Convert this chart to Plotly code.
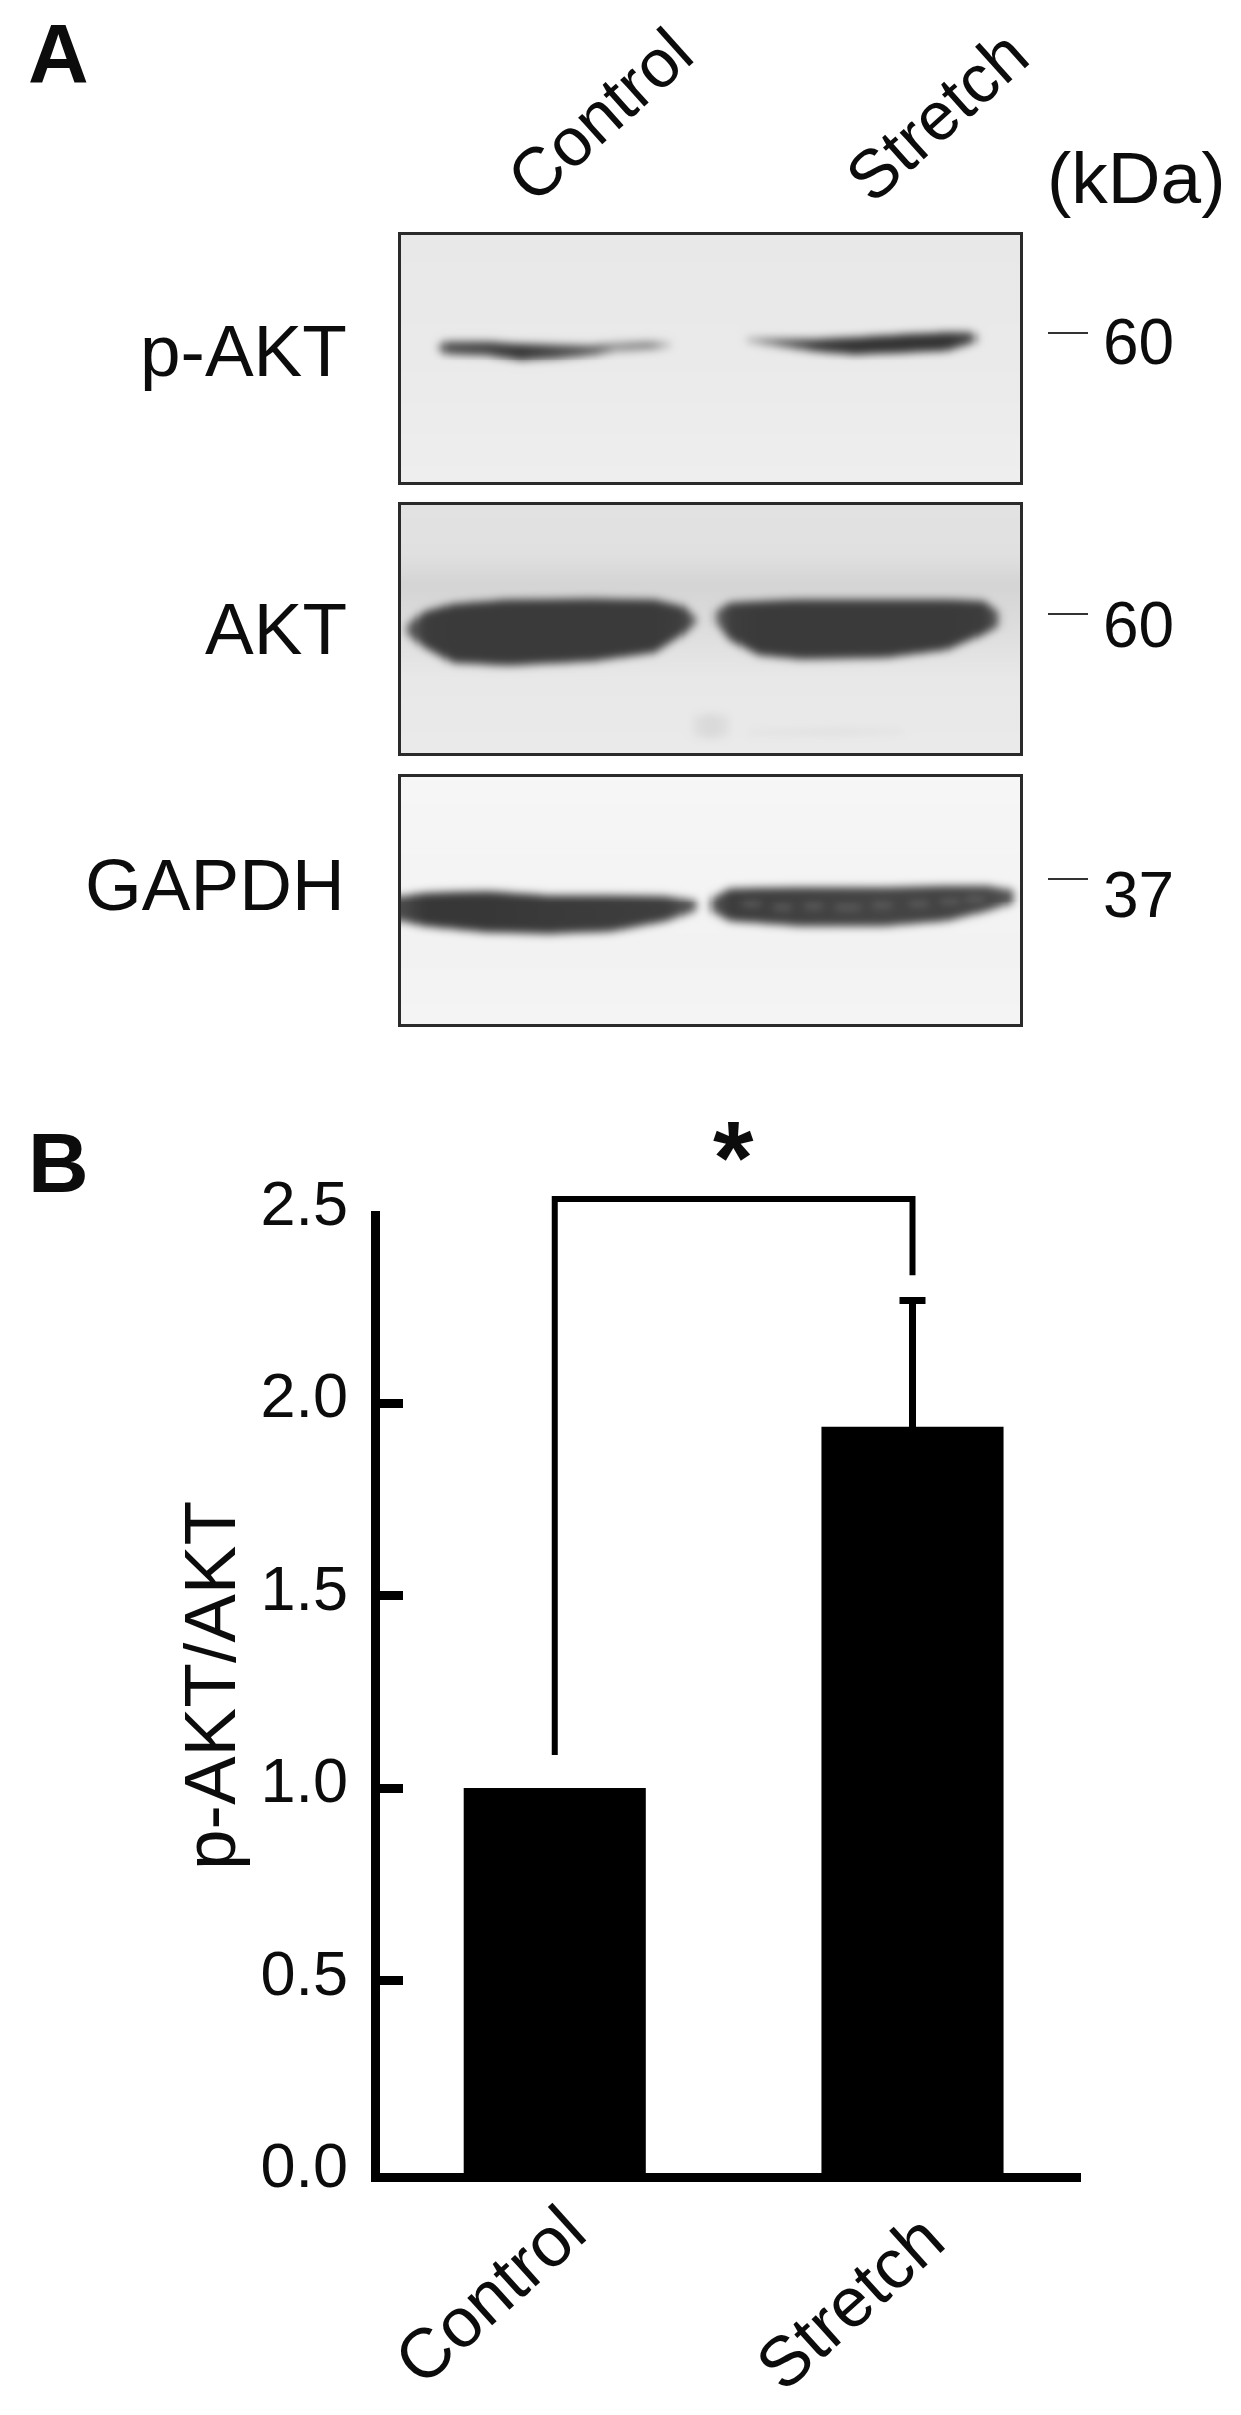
import numpy as np
import plotly.graph_objects as go

W, H = 1241, 2415

# ---------- bar chart data ----------
categories = ["Control", "Stretch"]
ratio_values = [1.0, 1.938]
stretch_error = 0.328
y_ticks = [0.0, 0.5, 1.0, 1.5, 2.0, 2.5]
tick_marks = [0.5, 1.0, 1.5, 2.0, 2.5]
bracket_x = [0, 0, 1, 1]
bracket_y = [1.086, 2.53, 2.53, 2.332]

# ---------- blot readings: lane position (% of panel width), band top / bottom
# (% of panel height), darkest grey level (0-255) ----------
pakt_left = dict(x=[5.7, 7.1, 13.8, 19.2, 25.3, 30.7, 34.7, 40.1, 43.5],
                 top=[44.4, 42.7, 42.7, 43.7, 44.0, 44.2, 43.1, 42.7, 43.1],
                 bot=[46.0, 47.9, 48.5, 50.6, 49.8, 48.5, 46.9, 46.0, 45.2],
                 core=[190, 80, 70, 55, 75, 95, 150, 130, 200])
pakt_right = dict(x=[55.6, 61.0, 67.1, 73.2, 81.3, 88.0, 92.0, 93.0],
                  top=[41.0, 41.5, 41.7, 41.0, 39.8, 39.0, 39.0, 40.2],
                  bot=[43.1, 44.8, 46.9, 48.1, 47.3, 46.5, 43.7, 42.7],
                  core=[190, 110, 60, 50, 50, 50, 70, 170])
akt_left = dict(x=[1.0, 3.7, 8.4, 17.2, 30.7, 40.8, 45.5, 47.5],
                top=[47.9, 42.7, 39.6, 37.9, 37.5, 37.9, 40.6, 44.8],
                bot=[52.1, 57.3, 63.5, 64.6, 62.9, 59.4, 52.0, 47.9],
                core=[100, 60, 58, 58, 58, 58, 62, 110])
akt_right = dict(x=[50.6, 53.0, 57.7, 64.4, 77.9, 88.0, 94.0, 96.4],
                 top=[42.7, 39.2, 38.5, 37.9, 37.9, 37.9, 38.5, 42.7],
                 bot=[46.9, 54.2, 60.4, 62.0, 61.5, 58.3, 52.0, 48.9],
                 core=[110, 62, 58, 58, 58, 58, 60, 90])
akt_smudge = dict(x=[47.0, 50.0, 53.0], top=[85.0, 84.0, 85.0], bot=[93.0, 94.0, 93.0],
                  core=[224, 216, 224])
akt_streak = dict(x=[56.0, 70.0, 81.0], top=[90.5, 90.0, 90.0], bot=[92.5, 92.5, 92.0],
                  core=[226, 222, 226])
gapdh_left = dict(x=[0.0, 3.7, 13.8, 23.9, 34.0, 42.8, 47.5],
                  top=[47.9, 46.5, 45.8, 47.5, 47.5, 47.9, 49.6],
                  bot=[58.3, 60.4, 62.9, 63.5, 62.5, 58.3, 54.2],
                  core=[75, 55, 55, 58, 60, 62, 90])
gapdh_right = dict(x=[49.9, 53.0, 64.4, 77.9, 88.0, 94.7, 98.8],
                   top=[48.9, 44.8, 44.2, 44.2, 43.7, 43.7, 45.4],
                   bot=[54.2, 58.3, 60.4, 60.4, 58.3, 54.2, 51.0],
                   core=[90, 60, 64, 68, 66, 70, 85])
gapdh_mottle = [dict(x=[a, b], top=[t, t], bot=[t + 2.5, t + 2.5], core=[95, 95])
                for a, b, t in [(55, 58, 50), (60, 63, 51.5), (65, 68, 51), (70, 74, 51.5), (76, 79, 50.5),
                                (82, 85, 50), (87, 90, 49), (91, 94, 48)]]

# background grey level by height in the panel
pakt_bg = dict(y=[0, 50, 100], v=[232, 234, 238])
akt_bg = dict(y=[0, 20, 32, 70, 100], v=[226, 224, 212, 232, 234])
gapdh_bg = dict(y=[0, 40, 70, 100], v=[246, 244, 242, 244])


def soften(img, passes=3):
    kernel = np.array([1, 2, 3, 2, 1], float)
    kernel /= kernel.sum()
    for _ in range(passes):
        img = np.apply_along_axis(lambda r: np.convolve(np.pad(r, 2, mode="edge"), kernel, "valid"), 0, img)
        img = np.apply_along_axis(lambda r: np.convolve(np.pad(r, 2, mode="edge"), kernel, "valid"), 1, img)
    return img


def blot(bg, bands, soft=0.6):
    xs = np.linspace(0, 100, 300)
    ys = np.linspace(0, 100, 125)
    grey = np.tile(np.interp(ys, bg["y"], bg["v"])[:, None], (1, xs.size))
    for b in bands:
        t = np.interp(xs, b["x"], b["top"])
        u = np.interp(xs, b["x"], b["bot"])
        c = np.interp(xs, b["x"], b["core"])
        inside = (xs >= b["x"][0]) & (xs <= b["x"][-1])
        for j in np.where(inside)[0]:
            a = np.clip((ys - t[j] + soft) / (2 * soft), 0, 1) * np.clip((u[j] - ys + soft) / (2 * soft), 0, 1)
            grey[:, j] = grey[:, j] * (1 - a) + c[j] * a
    return xs, ys, np.round(soften(grey), 1)


panels = [
    (235, 482, pakt_bg, [pakt_left, pakt_right]),
    (505, 753, akt_bg, [akt_left, akt_right, akt_smudge, akt_streak]),
    (777, 1024, gapdh_bg, [gapdh_left, gapdh_right] + gapdh_mottle),
]
PX0, PX1 = 401, 1020

# plot frame in page pixels
AX_L, AX_R, AX_B, AX_T = 380, 1081, 2173, 1210.5
LABEL_LIFT = 8
BRACKET_TOP = 1180
UNIT = (AX_B - AX_T) / 2.5


def dom(bottom_px, top_px):
    return [1 - bottom_px / H, 1 - top_px / H]


FONT = "Liberation Sans, Arial, sans-serif"
INK = "#0c0c0c"
fig = go.Figure()

# ---------- bars ----------
fig.add_trace(go.Bar(x=categories[:1], y=ratio_values[:1], width=0.509, marker=dict(color="black", line_width=0),
                     showlegend=False, hoverinfo="skip"))
fig.add_trace(go.Bar(x=categories[1:], y=ratio_values[1:], width=0.509, marker=dict(color="black", line_width=0),
                     error_y=dict(type="data", symmetric=True, array=[stretch_error],
                                  color="black", thickness=7, width=13, visible=True),
                     showlegend=False, hoverinfo="skip"))
fig.add_trace(go.Scatter(x=[categories[i] for i in bracket_x], y=bracket_y, mode="lines", xaxis="x", yaxis="y5",
                         line=dict(color="black", width=6), showlegend=False, hoverinfo="skip"))
# carries the tick-label axis, which sits slightly above the tick marks as in the reference
fig.add_trace(go.Scatter(x=categories, y=ratio_values, mode="none", xaxis="x", yaxis="y6",
                         showlegend=False, hoverinfo="skip"))

layout = dict(
    template="none", barmode="overlay",
    width=W, height=H, autosize=False, margin=dict(l=0, r=0, t=0, b=0),
    paper_bgcolor="white", plot_bgcolor="rgba(0,0,0,0)", font=dict(family=FONT, color=INK),
    xaxis=dict(domain=[AX_L / W, AX_R / W], range=[-(554.75 - AX_L) / 357.75, (AX_R - 554.75) / 357.75],
               type="category", categoryorder="array",
               categoryarray=categories, showline=True, linewidth=9, linecolor="black",
               showgrid=False, ticks="", showticklabels=False, zeroline=False, automargin=False),
    yaxis=dict(domain=dom(AX_B, AX_T), range=[0, 2.5], tickvals=tick_marks, showticklabels=False,
               ticks="inside", ticklen=23, tickwidth=9, tickcolor="black", showline=True, linewidth=9,
               linecolor="black", showgrid=False, zeroline=False, automargin=False),
    yaxis5=dict(domain=dom(AX_B, BRACKET_TOP), range=[0, (AX_B - BRACKET_TOP) / UNIT],
                visible=False, anchor="x", automargin=False),
    yaxis6=dict(domain=dom(AX_B - LABEL_LIFT, AX_T - LABEL_LIFT), range=[0, 2.5], tickvals=y_ticks,
                ticktext=[f"{v:.1f}" for v in y_ticks], tickfont=dict(size=63, color=INK), ticks="",
                showline=False, showgrid=False, zeroline=False, anchor="x", ticklabelstandoff=31, automargin=False),
    shapes=[], annotations=[],
)

# ---------- blots ----------
for i, (top, bot, bg, bands) in enumerate(panels):
    n = i + 2
    xs, ys, z = blot(bg, bands)
    fig.add_trace(go.Heatmap(x=xs, y=ys, z=z, xaxis=f"x{n}", yaxis=f"y{n}", zmin=0, zmax=255,
                             colorscale=[[0, "black"], [1, "white"]], showscale=False, zsmooth="best",
                             hoverinfo="skip"))
    layout[f"xaxis{n}"] = dict(domain=[PX0 / W, PX1 / W], range=[0, 100], showticklabels=False, ticks="",
                               showgrid=False, zeroline=False, showline=True, mirror=True, linewidth=2.5,
                               linecolor="#2a2a2a", anchor=f"y{n}", automargin=False)
    layout[f"yaxis{n}"] = dict(domain=dom(bot, top), range=[100, 0], showticklabels=False, ticks="",
                               showgrid=False, zeroline=False, showline=True, mirror=True, linewidth=2.5,
                               linecolor="#2a2a2a", anchor=f"x{n}", automargin=False)


def text(s, px, py, size, angle=0, bold=False):
    layout["annotations"].append(dict(
        text=f"<b>{s}</b>" if bold else s, x=px / W, y=1 - py / H, xref="paper", yref="paper",
        showarrow=False, font=dict(size=size, family=FONT, color=INK), textangle=angle,
        xanchor="center", yanchor="middle"))


text("A", 58, 54, 84, bold=True)
text("B", 58, 1163, 84, bold=True)
text("Control", 599, 115, 68, angle=-42)
text("Stretch", 936, 116, 68, angle=-42)
text("(kDa)", 1136, 177, 73)
text("p-AKT", 243, 351, 73)
text("AKT", 276, 628, 73)
text("GAPDH", 215, 884, 73)
for label, py in [("60", 342), ("60", 625), ("37", 895)]:
    text(label, 1138, py, 64)
for py in [333, 614, 879]:
    layout["shapes"].append(dict(type="line", xref="paper", yref="paper", x0=1048 / W, x1=1088 / W,
                                 y0=1 - py / H, y1=1 - py / H, line=dict(color="#333333", width=2)))
text("*", 733, 1158, 104, bold=True)
text("p-AKT/AKT", 209, 1686, 73, angle=-90)
text("Control", 490, 2295, 70, angle=-42)
text("Stretch", 850, 2302, 70, angle=-42)

fig.update_layout(**layout)
fig.write_html("out.html", config={"displayModeBar": False}, post_script="document.body.style.margin='0';")
